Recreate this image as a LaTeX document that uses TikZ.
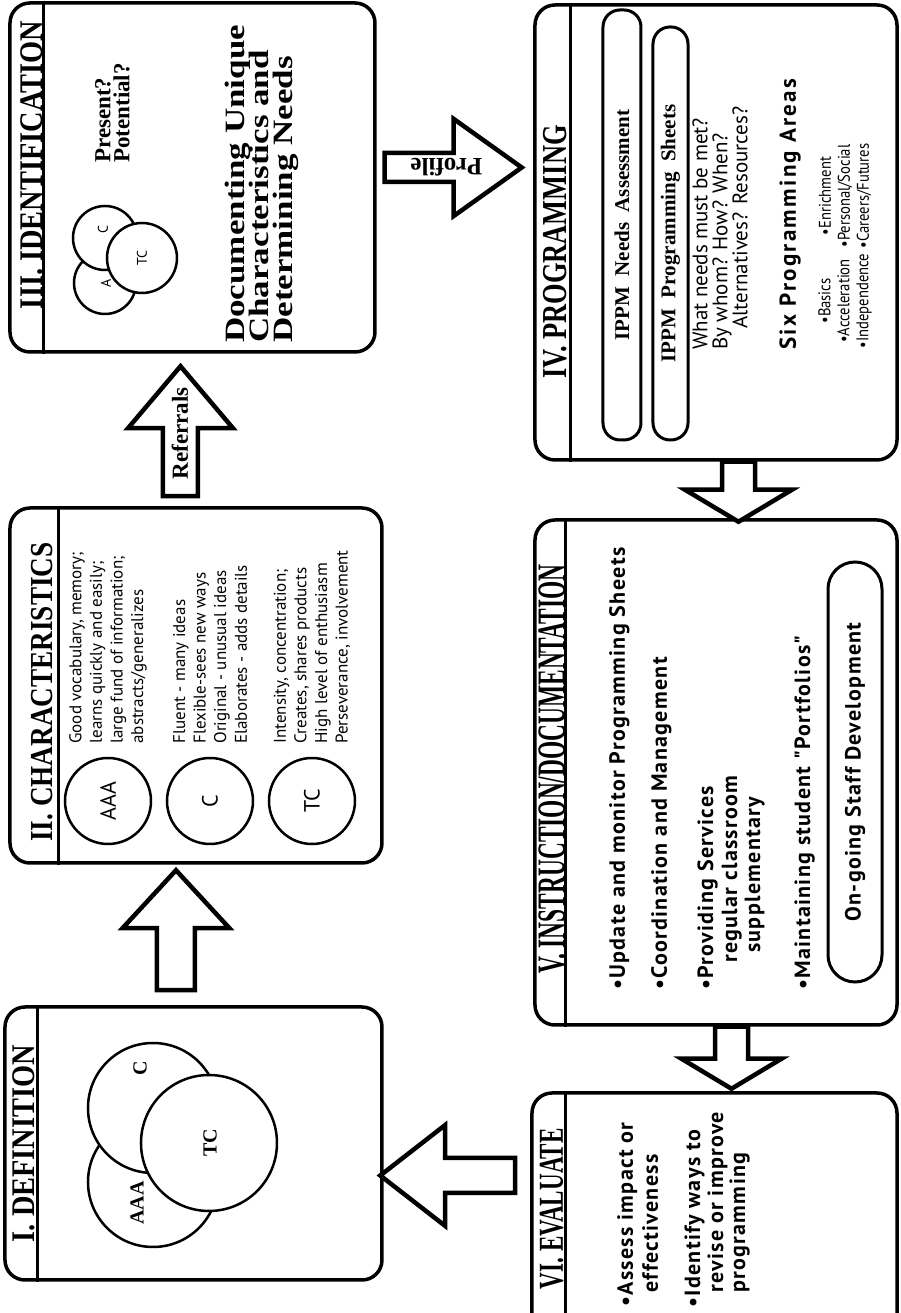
\documentclass[tikz,border=0pt]{standalone}
\usepackage{fontspec}
\setmainfont{Liberation Serif}
\setsansfont{PT Sans}
\newfontfamily\optfont[LetterSpace=6]{PT Sans}
\newfontfamily\widefont[LetterSpace=10]{PT Sans}
\newfontfamily\narrowfont[FakeStretch=0.86]{PT Sans}
\usetikzlibrary{positioning}
\usetikzlibrary{calc}

% block arrow: [turn]{tail}{length}{shaft half width}{head half width}{head length}
\newcommand{\blockarrow}[6][0]{%
  \draw[blockarr, rotate=#1] (#2) ++(0,-#4) -- ++({#3-#6},0) -- ++(0,{#4-#5})
    -- ++(#6,#5) -- ++(-#6,#5) -- ++(0,{#4-#5}) -- ++({#6-#3},0) -- cycle;}

\begin{document}
\begin{tikzpicture}[rotate=90, transform shape, x=1pt, y=1pt,
    stage/.style={draw, line width=3.5pt, rounded corners=20pt, inner sep=0pt},
    strip/.style={line width=3pt},
    pill/.style={draw, line width=3pt, rounded corners=17pt, inner sep=0pt},
    ring/.style={draw, circle, line width=2.5pt, fill=white, inner sep=0pt},
    blockarr/.style={draw, line width=4.5pt, fill=white},
    title/.style={font=\bfseries, inner sep=0pt, anchor=base},
    venn/.style={font=\bfseries\fontsize{20}{20}\selectfont, inner sep=0pt},
    trait/.style={font=\sffamily\fontsize{17}{20.6}\selectfont, align=left, inner sep=0pt},
    item/.style={font=\optfont\bfseries\fontsize{22}{24}\selectfont, inner sep=0pt, anchor=base west},
    need/.style={title, anchor=base west, font=\bfseries\fontsize{28}{28}\selectfont},
    area/.style={font=\narrowfont\fontsize{17}{19}\selectfont, align=center, inner sep=0pt}]

\useasboundingbox (0,0) rectangle (1313,900);
\clip (0,0) rectangle (1313,900);

% Stages
\node[stage, minimum width=273pt, minimum height=377pt] (def) at (169.5,706.5) {};
\node[stage, minimum width=355pt, minimum height=372pt] (char) at (627.5,704) {};
\node[stage, minimum width=349pt, minimum height=365pt] (ident) at (1135.5,707.5) {};
\node[stage, minimum width=455pt, minimum height=362pt] (prog) at (1080.5,184) {};
\node[stage, minimum width=505pt, minimum height=362pt] (instr) at (540.5,184) {};
\node[stage, minimum width=260pt, minimum height=365pt] (eval) at (90,185.5) {};

% Title strips
\draw[strip] ([yshift=-34pt]def.north west) -- ([yshift=-34pt]def.north east);
\draw[strip] ([yshift=-50pt]char.north west) -- ([yshift=-50pt]char.north east);
\draw[strip] ([yshift=-35pt]ident.north west) -- ([yshift=-35pt]ident.north east);
\draw[strip] ([yshift=-37pt]prog.north west) -- ([yshift=-37pt]prog.north east);
\draw[strip] ([yshift=-32pt]instr.north west) -- ([yshift=-32pt]instr.north east);
\draw[strip] ([yshift=-35pt]eval.north west) -- ([yshift=-35pt]eval.north east);

\node[title] (deft) at (169.5,865) {\fontsize{33}{33}\selectfont\scalebox{0.86}[1]{I. DEFINITION}};
\node[title] (chart) at (621,847) {\fontsize{32}{32}\selectfont\scalebox{0.85}[1]{II. CHARACTERISTICS}};
\node[title] (identt) at (1148,857) {\fontsize{33}{33}\selectfont\scalebox{0.86}[1]{III. IDENTIFICATION}};
\node[title] (progt) at (1061,333) {\fontsize{35}{35}\selectfont\scalebox{0.755}[1]{IV. PROGRAMMING}};
\node[title] (instrt) at (544,335) {\fontsize{40}{40}\selectfont\scalebox{0.585}[1]{V. INSTRUCTION/DOCUMENTATION}};
\node[title, anchor=base east] (evalt) at (185,337) {\fontsize{35}{35}\selectfont\scalebox{0.66}[1]{VI. EVALUATE}};

% I. Definition
\node[ring, minimum size=130pt] (defa) at (131,747) {};
\node[ring, minimum size=130pt] (defc) at (205,747) {};
\node[ring, minimum size=136pt] (deftc) at (170,691) {};
\node[venn] (defal) at (110,763) {AAA};
\node[venn] (defcl) at (245,760) {C};
\node[venn] (deftcl) at (170,690) {TC};

% II. Characteristics
\node[ring, minimum size=86pt, font=\sffamily\fontsize{22}{22}\selectfont] (caaa) at (512,792) {AAA};
\node[ring, minimum size=86pt, font=\sffamily\fontsize{22}{22}\selectfont] (cc) at (512,690) {C};
\node[ring, minimum size=86pt, font=\sffamily\fontsize{22}{22}\selectfont] (ctc) at (512,588) {TC};
\node[trait, right=13pt of caaa] (caaatext) {Good vocabulary, memory;\\learns quickly and easily;\\large fund of information;\\abstracts/generalizes};
\node[trait, right=13pt of cc] (cctext) {Fluent - many ideas\\Flexible-sees new ways\\Original - unusual ideas\\Elaborates - adds details};
\node[trait, right=13pt of ctc] (ctctext) {Intensity, concentration;\\Creates, shares products\\High level of enthusiasm\\Perseverance, involvement};

% III. Identification
\node[ring, minimum size=62pt] (ida) at (1030,795) {};
\node[ring, minimum size=64pt] (idc) at (1075,795) {};
\node[ring, minimum size=70pt] (idtc) at (1055,758) {};
\node[font=\sffamily\fontsize{14}{14}\selectfont, inner sep=0pt] (idal) at (1030,794) {A};
\node[font=\sffamily\fontsize{14}{14}\selectfont, inner sep=0pt] (idcl) at (1083,797) {C};
\node[font=\sffamily\fontsize{14}{14}\selectfont, inner sep=0pt] (idtcl) at (1055,758) {TC};
\node[font=\bfseries\fontsize{23}{19}\selectfont, align=left, inner sep=0pt, anchor=west] (pres) at (1150,787.5) {Present?\\Potential?};
\node[need] (doc1) at (970,655) {\scalebox{1.25}[1]{Documenting Unique}};
\node[need] (doc2) at (970,631) {\scalebox{1.25}[1]{Characteristics and}};
\node[need] (doc3) at (970,607) {\scalebox{1.25}[1]{Determining Needs}};

% IV. Programming
\node[pill, minimum width=430pt, minimum height=38pt, font=\bfseries\fontsize{21}{21}\selectfont] (needs) at (1088,278) {IPPM\ \ Needs\ \ Assessment};
\node[pill, minimum width=413pt, minimum height=35pt, font=\bfseries\fontsize{21}{21}\selectfont] (sheets) at (1079.5,229.5) {IPPM\ \ Programming\ \ Sheets};
\node[font=\sffamily\fontsize{21}{20}\selectfont, align=left, inner sep=0pt, anchor=west] (ask) at (963,180) {What needs must be met?\\By whom? How? When?\\\hspace*{21pt}Alternatives? Resources?};
\node[font=\widefont\bfseries\fontsize{23}{23}\selectfont, inner sep=0pt, anchor=west] (six) at (963,110) {Six Programming Areas};
\node[area] (areas1) at (1012,55) {•Basics\\•Acceleration\\•Independence};
\node[area] (areas2) at (1117,55) {•Enrichment\\•Personal/Social\\•Careers/Futures};

% V. Instruction/Documentation
\node[item] (upd) at (323,275) {•Update and monitor Programming Sheets};
\node[item] (coord) at (323,233) {•Coordination and Management};
\node[item] (serv) at (323,187) {•Providing Services};
\node[item] (serv2) at (350,163) {regular classroom};
\node[item] (serv3) at (360,140) {supplementary};
\node[item] (port) at (323,90) {•Maintaining student "Portfolios"};
\node[pill, rounded corners=27pt, minimum width=420pt, minimum height=54pt, font=\optfont\bfseries\fontsize{22}{22}\selectfont] (staff) at (541,45) {On-going Staff Development};

% VI. Evaluate
\node[item] (ass) at (6,267) {•Assess impact or};
\node[item] (ass2) at (20,242) {effectiveness};
\node[item] (way) at (5,200) {•Identify ways to};
\node[item] (way2) at (20,177) {revise or improve};
\node[item] (way3) at (20,155) {programming};

% Arrows
\coordinate (a1) at ($(def.east)+(15,17.5)$);
\coordinate (a2) at ($(char.east)+(10,15.5)$);
\coordinate (a3) at ($(ident.south)+(10,-8)$);
\coordinate (a4) at ($(prog.west)+(0,-22.5)$);
\coordinate (a5) at ($(instr.west)+(0,-15.5)$);
\coordinate (a6) at ($(eval.north)+(47.5,15)$);
\blockarrow{a1}{120}{19}{53.5}{58}
\blockarrow{a2}{130}{17.5}{52.5}{62}
\blockarrow[-90]{a3}{137}{14.5}{48.5}{68}
\blockarrow[180]{a4}{60}{16.5}{53.5}{32}
\blockarrow[180]{a5}{62}{16.5}{50}{30}
\blockarrow[90]{a6}{135}{17.5}{50.5}{65}
\node[font=\bfseries\fontsize{23}{23}\selectfont, inner sep=0pt] (referrals) at (879.5,720) {Referrals};
\node[font=\bfseries\fontsize{25}{25}\selectfont, inner sep=0pt, rotate=90] (profile) at (1146,453.5) {Profile};
\end{tikzpicture}
\end{document}
